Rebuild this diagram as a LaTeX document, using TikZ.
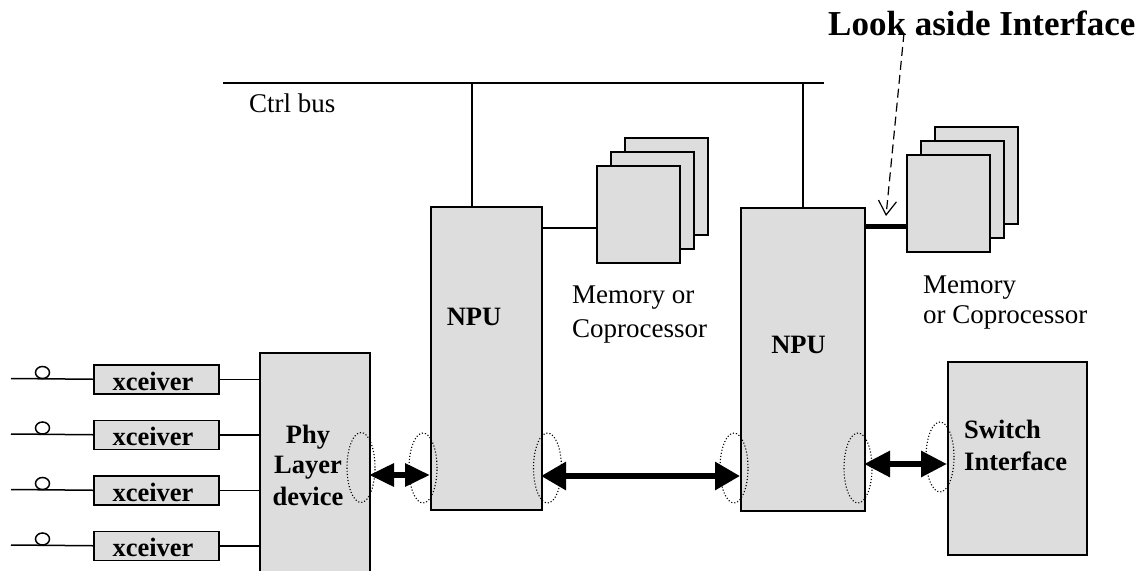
\documentclass[tikz,border=0pt]{standalone}
\usepackage{fontspec}
\setmainfont{Liberation Serif}
\usetikzlibrary{arrows.meta,shapes.geometric}
\definecolor{boxgray}{RGB}{221,221,221}
\tikzset{
  unit/.style={draw, line width=1.5pt, fill=boxgray, inner sep=0pt, anchor=north west},
  wire/.style={line width=1.5pt},
  port/.style={draw, dotted, line width=1.1pt, ellipse, minimum width=28pt, minimum height=70pt, inner sep=0pt},
  bigarrow/.style={line width=6pt, {Triangle[length=25pt,width=27pt]}-{Triangle[length=25pt,width=27pt]}},
  lbl/.style={font=\fontsize{27}{32}\selectfont, inner sep=0pt, anchor=base west},
  blbl/.style={font=\fontsize{26.5}{32}\selectfont\bfseries, inner sep=0pt, anchor=base},
}
\begin{document}
\begin{tikzpicture}[x=1pt, y=-1pt]
\useasboundingbox (0,0) rectangle (1145,570);
\clip (0,0) rectangle (1145,570);

% control bus
\coordinate (busL) at (223,83);
\coordinate (busR) at (824,83);
\draw[wire] (busL) -- (busR);
\node[lbl] (ctrl) at (249,112) {Ctrl bus};

% network processors
\node[unit, minimum width=111pt, minimum height=303pt] (npuA) at (430,206) {};
\node[unit, minimum width=124pt, minimum height=303pt] (npuB) at (740,207) {};
\node[blbl] (npuAt) at (474,325) {NPU};
\node[blbl] (npuBt) at (798.5,353) {NPU};

\coordinate (tapA) at (472,83);
\coordinate (tapB) at (803,83);
\draw[wire] (tapA) -- (tapA |- npuA.north);
\draw[wire] (tapB) -- (tapB |- npuB.north);

% memory / coprocessor stacks
\foreach \dx/\nm in {28/A3,14/A2,0/A} {
  \node[unit, minimum width=83pt, minimum height=97pt] (mem\nm) at (596+\dx,165-\dx) {};
}
\foreach \dx/\nm in {28/B3,14/B2,0/B} {
  \node[unit, minimum width=83pt, minimum height=97pt] (mem\nm) at (906+\dx,154-\dx) {};
}
\coordinate (linkA) at (541,228);
\draw[wire] (linkA) -- (linkA -| memA.west);
\coordinate (linkB) at (864,226);
\draw[line width=5pt] (linkB) -- (linkB -| memB.west);

\node[lbl] (memAt1) at (572,303) {Memory or};
\node[lbl] (memAt2) at (572,337) {Coprocessor};
\node[lbl] (memBt1) at (923,293) {Memory};
\node[lbl] (memBt2) at (923,323) {or Coprocessor};

% look-aside callout
\node[font=\fontsize{35}{40}\selectfont\bfseries, inner sep=0pt, anchor=base west] (title) at (828,35) {Look aside Interface};
\coordinate (calloutS) at (904,33);
\coordinate (calloutE) at (886,216);
\draw[line width=1.2pt, dash pattern=on 9pt off 5pt, -{Straight Barb[length=14pt,width=18pt]}] (calloutS) -- (calloutE);

% physical layer device
\node[unit, minimum width=110pt, minimum height=230pt] (phy) at (259,352) {};
\node[blbl] (phyt1) at (308,443) {Phy};
\node[blbl] (phyt2) at (308,473) {Layer};
\node[blbl] (phyt3) at (308,505) {device};

% switch interface
\node[unit, minimum width=139pt, minimum height=193pt] (sw) at (947,361) {};
\node[blbl, anchor=base west] (swt1) at (964,438) {Switch};
\node[blbl, anchor=base west] (swt2) at (964,470) {Interface};

% transceivers
\foreach \i/\y in {1/364,2/419.5,3/475,4/530.5} {
  \node[unit, minimum width=125pt, minimum height=29pt] (xc\i) at (93,\y) {};
  \node[blbl] (xct\i) at (153,\y+26) {xceiver};
  \coordinate (in\i) at (11,\y+14.5);
  \draw[wire] (in\i) -- (xc\i.west);
  \draw[wire] (xc\i.east) -- (xc\i.east -| phy.west);
  \node[draw, line width=1.5pt, fill=white, ellipse, minimum width=14pt, minimum height=12pt, inner sep=0pt] (jack\i) at (42.5,\y+8.5) {};
}

% interface ports
\node[port] (pPhy) at (361,467.5) {};
\node[port] (pAL) at (423,468) {};
\node[port] (pAR) at (547.5,468) {};
\node[port] (pBL) at (734,468) {};
\node[port] (pBR) at (858,468) {};
\node[port] (pSw) at (940,457) {};

% data paths
\coordinate (d1) at (369,475);
\draw[line width=6pt, {Triangle[length=25pt,width=22pt]}-{Triangle[length=25pt,width=22pt]}] (d1) -- (d1 -| npuA.west);
\coordinate (d2) at (541,476);
\draw[bigarrow] (d2) -- (d2 -| npuB.west);
\coordinate (d3) at (864,464);
\draw[line width=6pt, {Triangle[length=26pt,width=25pt]}-{Triangle[length=26pt,width=25pt]}] (d3) -- (d3 -| sw.west);
\end{tikzpicture}
\end{document}
